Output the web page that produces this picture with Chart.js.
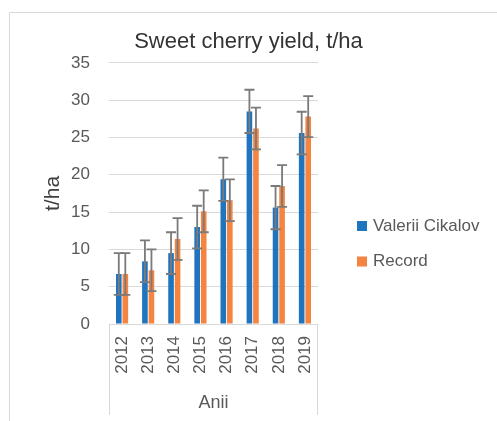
<!DOCTYPE html>
<html><head><meta charset="utf-8">
<script src="https://cdn.jsdelivr.net/npm/chart.js@4"></script>
<style>html,body{margin:0;padding:0;background:#fff}#c{display:block}</style>
</head><body>
<canvas id="c" width="497" height="421"></canvas>
<script>
const years = ['2012','2013','2014','2015','2016','2017','2018','2019'];
const cikalov = [6.7, 8.4, 9.5, 13.0, 19.4, 28.5, 15.6, 25.6];
const record = [6.7, 7.2, 11.4, 15.1, 16.6, 26.2, 18.5, 27.8];
const errCikalov = [2.8, 2.8, 2.8, 2.85, 2.9, 2.9, 2.9, 2.85];
const errRecord = [2.8, 2.8, 2.8, 2.8, 2.8, 2.8, 2.8, 2.75];
const yTicks = [0, 5, 10, 15, 20, 25, 30, 35];
const chartTitle = 'Sweet cherry yield, t/ha';

const FONT = "'Liberation Sans', Arial, sans-serif";
const BLUE = '#1F74BF', ORANGE = '#F4843F';
const errs = [errCikalov, errRecord];

const extras = {
  id: 'extras',
  afterDatasetsDraw(chart) {
    const ctx = chart.ctx, y = chart.scales.y;
    ctx.save();
    ctx.strokeStyle = '#7A7A7A';
    ctx.lineWidth = 1.8;
    chart.data.datasets.forEach((ds, i) => {
      const meta = chart.getDatasetMeta(i);
      meta.data.forEach((bar, j) => {
        const v = ds.data[j], e = errs[i][j];
        const x = bar.x;
        const yt = y.getPixelForValue(v + e), yb = y.getPixelForValue(v - e);
        ctx.beginPath();
        ctx.moveTo(x, yt); ctx.lineTo(x, yb);
        ctx.moveTo(x - 5, yt); ctx.lineTo(x + 5, yt);
        ctx.moveTo(x - 5, yb); ctx.lineTo(x + 5, yb);
        ctx.stroke();
      });
    });
    ctx.restore();
  },
  afterDraw(chart) {
    const ctx = chart.ctx, a = chart.chartArea;
    ctx.save();
    // outer border
    ctx.strokeStyle = '#D9D9D9';
    ctx.lineWidth = 1;
    ctx.beginPath();
    ctx.moveTo(9.5, 430); ctx.lineTo(9.5, 12.5); ctx.lineTo(505, 12.5);
    ctx.stroke();
    // category axis box
    const l = Math.round(a.left) + 0.5, r = Math.round(a.right) - 0.5, b = Math.round(a.bottom) + 0.5;
    ctx.beginPath();
    ctx.moveTo(l, b); ctx.lineTo(r, b);
    ctx.moveTo(l, b); ctx.lineTo(l, 415);
    ctx.moveTo(r, b); ctx.lineTo(r, 415);
    ctx.stroke();
    // chart title
    ctx.fillStyle = '#333333';
    ctx.font = '22px ' + FONT;
    ctx.textAlign = 'center';
    ctx.textBaseline = 'middle';
    ctx.fillText(chartTitle, 248.5, 42);
    // x axis title
    ctx.fillStyle = '#595959';
    ctx.font = '18px ' + FONT;
    ctx.fillText('Anii', (a.left + a.right) / 2, 403);
    // y axis title
    ctx.save();
    ctx.translate(53, (a.top + a.bottom) / 2);
    ctx.rotate(-Math.PI / 2);
    ctx.font = '21px ' + FONT;
    ctx.fillStyle = '#404040';
    ctx.fillText('t/ha', 0, 0);
    ctx.restore();
    // legend
    ctx.font = '17px ' + FONT;
    ctx.textAlign = 'left';
    const ly = [226, 261.5];
    chart.data.datasets.forEach((ds, i) => {
      ctx.fillStyle = ds.backgroundColor;
      ctx.fillRect(357, ly[i] - 5, 10, 10);
      ctx.fillStyle = '#595959';
      ctx.fillText(ds.label, 373, ly[i]);
    });
    ctx.restore();
  }
};

new Chart(document.getElementById('c'), {
  type: 'bar',
  data: {
    labels: years,
    datasets: [
      { label: 'Valerii Cikalov', data: cikalov, backgroundColor: BLUE },
      { label: 'Record', data: record, backgroundColor: ORANGE }
    ]
  },
  options: {
    responsive: false,
    animation: false,
    layout: { padding: { left: 0, right: 179, top: 62.9, bottom: 0 } },
    datasets: { bar: { categoryPercentage: 0.5, barPercentage: 0.86 } },
    plugins: {
      legend: { display: false },
      tooltip: { enabled: false },
      title: { display: false }
    },
    scales: {
      x: {
        grid: { display: false, drawTicks: false },
        border: { display: false },
        ticks: {
          color: '#595959',
          font: { family: FONT, size: 17 },
          minRotation: 90, maxRotation: 90,
          padding: 12
        },
        afterFit(s) { s.height = 97; }
      },
      y: {
        min: 0, max: 35,
        afterBuildTicks(s) { s.ticks = yTicks.map(v => ({ value: v })); },
        grid: { color: '#D9D9D9', drawTicks: false },
        border: { display: false },
        ticks: {
          color: '#595959',
          font: { family: FONT, size: 17 },
          padding: 19
        },
        afterFit(s) { s.width = 109; }
      }
    }
  },
  plugins: [extras]
});
</script>
</body></html>
